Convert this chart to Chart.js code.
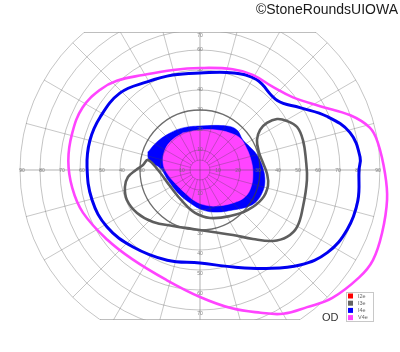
<!DOCTYPE html>
<html><head><meta charset="utf-8">
<script src="https://cdn.jsdelivr.net/npm/chart.js@4.4.0/dist/chart.umd.min.js"></script>
<style>html,body{margin:0;padding:0;background:#fff;}canvas{display:block;}</style>
</head><body>
<canvas id="c" width="400" height="352"></canvas>
<script>
// ---- text ----
const titleText = '©StoneRoundsUIOWA';
const eyeLabel = 'OD';
const legendLabels = ['I2e', 'I3e', 'I4e', 'V4e'];
const legendColors = ['#ff0000', '#646464', '#0000ff', '#ff44ff'];

// ---- grid (degrees of eccentricity / meridian angle) ----
const ringDegrees = [5, 10, 20, 30, 40, 50, 60, 70, 80, 90];
const meridianDegrees = [0, 15, 30, 45, 60, 75, 90, 105, 120, 135, 150, 165, 180, 195, 210, 225, 240, 255, 270, 285, 300, 315, 330, 345];
const axisLabelDegrees = [10, 20, 30, 40, 50, 60, 70, 80, 90];

// ---- isopters: meridian angle (deg, 0 = right, counter-clockwise) and eccentricity (deg) ----
const v4eAngles = [-172, -160, -143, -127, -107, -90, -77, -67, -60, -52, -44, -34, -27.5, -19, -9, -1, 8.6, 14, 20, 28, 38, 49, 61, 72, 90, 105, 121, 133, 141, 152, 164, 176];
const v4eEcc    = [64.5, 62.3, 58, 56, 57.5, 63.5, 71, 77.5, 83, 87, 92, 96, 97.5, 96.3, 94.7, 92.5, 90, 87.5, 80, 68, 59, 55.2, 54.4, 53, 51, 51.8, 55.4, 61, 64, 66.5, 66.5, 66];

const i4eAngles = [-164.5, -148.5, -131, -110, -90, -71, -56, -43.5, -33, -22, -11, 0, 4.6, 14, 23, 32, 42, 58, 71, 90, 106, 121, 136, 152, 165, 178.5];
const i4eEcc    = [56, 54.5, 51, 48, 46.5, 51.3, 59.4, 69, 75.9, 79.4, 80.4, 79.5, 80.3, 77.3, 68.8, 58.9, 52, 53.3, 51.3, 48.5, 49.4, 51.4, 55.5, 56.5, 57, 56.5];

const i3eAngles = [169.1, 180, -151.9, -120.1, -96.6, -78.2, -56.9, -39.8, -25.1, -13.2, -3.4, 6.3, 17, 27.8, 33.7, 35.1, 33.5, 29.4, 23.9, 16.2, 5.4, -5.3, -19.8, -30.4, -37.6, -44.2, -52.5, -63.1, -78.2, -96.8, -115.7, -132.1, -145.7, -157.7, -167.2, -174.4, 180, 175];
const i3eEcc    = [26.5, 21, 17, 17.9, 21.6, 24.5, 27.5, 31.2, 34.2, 34.9, 33.6, 31.7, 30.8, 32.2, 36.1, 40.9, 46.2, 49.9, 53.1, 53.6, 53.2, 53.7, 54.7, 56.3, 54.9, 50.9, 43.5, 36.4, 31.7, 29.7, 31.1, 35.0, 38.1, 39.5, 38.5, 36.2, 32, 28.6];

// central scotomas (filled)
const i4eScotomaAngles = [160.9, 146.9, 129, 112, 90, 58.5, 47.2, 34.9, 24.7, 14.7, 1.8, -10.5, -20.4, -29.7, -38.2, -50.5, -68, -85.7, -106.9, -133.7, -162.6, 177.1, 170.9, 166];
const i4eScotomaEcc    = [27.5, 25.7, 23.8, 22.7, 22, 25.8, 27.2, 26.2, 27.5, 29.5, 31.5, 33, 33.1, 32.2, 29.9, 25.9, 22.7, 20.1, 17.2, 15.9, 16.8, 20, 25.3, 26.8];

const v4eScotomaAngles = [114.7, 90, 67, 51, 38.7, 26.6, 11.1, -3.2, -18.4, -31, -45, -64.7, -81.9, -99.2, -123.1, -152.5, -174.8, 169.3, 150.3, 133];
const v4eScotomaEcc    = [20.4, 20, 21.7, 23.8, 25.6, 25.7, 26, 26.5, 26.9, 26.2, 23.3, 19.9, 17.7, 15.7, 13.7, 14.1, 16.6, 18.8, 20.2, 20.5];

// ---- helpers ----
const rad = d => d * Math.PI / 180;
const toPoints = (angles, ecc) => angles.map((a, i) => ({x: ecc[i] * Math.cos(rad(a)), y: ecc[i] * Math.sin(rad(a))}));
// smooth closed loop: wrap neighbours around so the spline is continuous, hide the two helper segments
function loopData(angles, ecc) {
  const p = toPoints(angles, ecc);
  return [p[p.length - 1], ...p, p[0], p[1]];
}
function loopSegment(n) {
  return {borderColor: c => (c.p0DataIndex === 0 || c.p0DataIndex === n + 1) ? 'rgba(0,0,0,0)' : undefined};
}
function closedData(angles, ecc) {
  const p = toPoints(angles, ecc);
  return [...p, p[0]];
}

function isopter(label, angles, ecc, color, width, order) {
  return {
    label, data: loopData(angles, ecc), borderColor: color, borderWidth: width, showLine: true,
    pointRadius: 0, pointHoverRadius: 0, tension: 0.4, capBezierPoints: false,
    fill: false, clip: false, order, segment: loopSegment(angles.length)
  };
}
function scotoma(label, angles, ecc, color, order) {
  return {
    label, data: closedData(angles, ecc), borderColor: color, borderWidth: 0.5, showLine: true,
    backgroundColor: color, pointRadius: 0, tension: 0.4, capBezierPoints: false,
    fill: 'shape', order
  };
}

const datasets = [
  isopter('V4e', v4eAngles, v4eEcc, '#ff44ff', 2.6, 0),
  isopter('I4e', i4eAngles, i4eEcc, '#0000f0', 3, 1),
  isopter('I3e', i3eAngles, i3eEcc, '#5e5e5e', 2.6, 2),
  scotoma('I4e scotoma', i4eScotomaAngles, i4eScotomaEcc, '#0000ff', 4),
  scotoma('V4e scotoma', v4eScotomaAngles, v4eScotomaEcc, '#ff44ff', 3)
];

function drawGrid(chart) {
  const {ctx, scales: {x, y}} = chart;
  const cx = x.getPixelForValue(0), cy = y.getPixelForValue(0);
  const k = x.getPixelForValue(1) - cx;
  const R = k * 90;
  const top = y.getPixelForValue(y.max) + 0.5, bottom = y.getPixelForValue(y.min) - 0.5;
  ctx.save();
  ctx.beginPath(); ctx.rect(0, top, chart.width, bottom - top); ctx.clip();
  ctx.beginPath(); ctx.arc(cx, cy, R + 1, 0, Math.PI * 2); ctx.clip();
  ctx.lineWidth = 1;
  meridianDegrees.forEach(m => {
    const main = m % 90 === 0;
    const r0 = main ? 0 : 5 * k;
    ctx.strokeStyle = main ? 'rgba(70,70,70,0.42)' : 'rgba(70,70,70,0.3)';
    ctx.beginPath();
    ctx.moveTo(cx + r0 * Math.cos(rad(m)), cy - r0 * Math.sin(rad(m)));
    ctx.lineTo(cx + R * Math.cos(rad(m)), cy - R * Math.sin(rad(m)));
    ctx.stroke();
  });
  ringDegrees.forEach(d => {
    ctx.strokeStyle = d === 30 ? 'rgba(60,60,60,0.75)' : 'rgba(70,70,70,0.32)';
    ctx.lineWidth = d === 30 ? 1.3 : 1;
    ctx.beginPath(); ctx.arc(cx, cy, d * k, 0, Math.PI * 2); ctx.stroke();
  });
  ctx.restore();
  ctx.save();
  ctx.strokeStyle = 'rgba(70,70,70,0.35)'; ctx.lineWidth = 1;
  [top, bottom].forEach(py => {
    const h = Math.sqrt(R * R - (py - cy) * (py - cy));
    ctx.beginPath(); ctx.moveTo(cx - h, py); ctx.lineTo(cx + h, py); ctx.stroke();
  });
  ctx.fillStyle = 'rgba(110,110,110,0.85)';
  ctx.font = '5px "Liberation Sans", Arial, sans-serif';
  ctx.textAlign = 'center'; ctx.textBaseline = 'middle';
  axisLabelDegrees.forEach(d => {
    const t = String(d);
    ctx.fillText(t, x.getPixelForValue(d) - 2, cy + 0.5);
    ctx.fillText(t, x.getPixelForValue(-d) + 2, cy + 0.5);
    if (d <= 70) {
      ctx.fillText(t, cx, Math.max(y.getPixelForValue(d) - 0.5, top + 3));
      ctx.fillText(t, cx, Math.min(y.getPixelForValue(-d) + 4, bottom - 4));
    }
  });
  ctx.restore();
}

const perimetryPlugin = {
  id: 'perimetry',
  afterDatasetDraw(chart, args) {
    if (args.index === 4) drawGrid(chart);
  },
  afterDraw(chart) {
    const ctx = chart.ctx;
    ctx.save();
    ctx.fillStyle = '#1a1a1a';
    ctx.font = '14px "Liberation Sans", Arial, sans-serif';
    ctx.textAlign = 'right'; ctx.textBaseline = 'alphabetic';
    ctx.fillText(titleText, 398, 13.5);
    ctx.fillStyle = '#333';
    ctx.font = '11px "Liberation Sans", Arial, sans-serif';
    ctx.textAlign = 'left';
    ctx.fillText(eyeLabel, 322, 321);
    ctx.strokeStyle = '#c8c8c8'; ctx.lineWidth = 1;
    ctx.fillStyle = '#fff';
    ctx.fillRect(346.5, 292.5, 27, 29);
    ctx.strokeRect(346.5, 292.5, 27, 29);
    ctx.font = '5.5px "Liberation Sans", Arial, sans-serif';
    ctx.textBaseline = 'middle';
    legendLabels.forEach((l, i) => {
      const yy = 296 + i * 7.2;
      ctx.fillStyle = legendColors[i];
      ctx.fillRect(348, yy - 2.5, 5, 5);
      ctx.fillStyle = '#666';
      ctx.fillText(l, 358, yy + 0.3);
    });
    ctx.restore();
  }
};

new Chart(document.getElementById('c'), {
  type: 'scatter',
  data: {datasets},
  options: {
    responsive: false, devicePixelRatio: 1, animation: false,
    layout: {padding: {left: 20, right: 20, top: 32, bottom: 32}},
    scales: {
      x: {type: 'linear', min: -90, max: 90, display: false},
      y: {type: 'linear', min: -75, max: 69, display: false}
    },
    plugins: {legend: {display: false}, tooltip: {enabled: false}, title: {display: false}},
    elements: {line: {borderJoinStyle: 'round', borderCapStyle: 'round'}}
  },
  plugins: [perimetryPlugin]
});
</script>
</body></html>
